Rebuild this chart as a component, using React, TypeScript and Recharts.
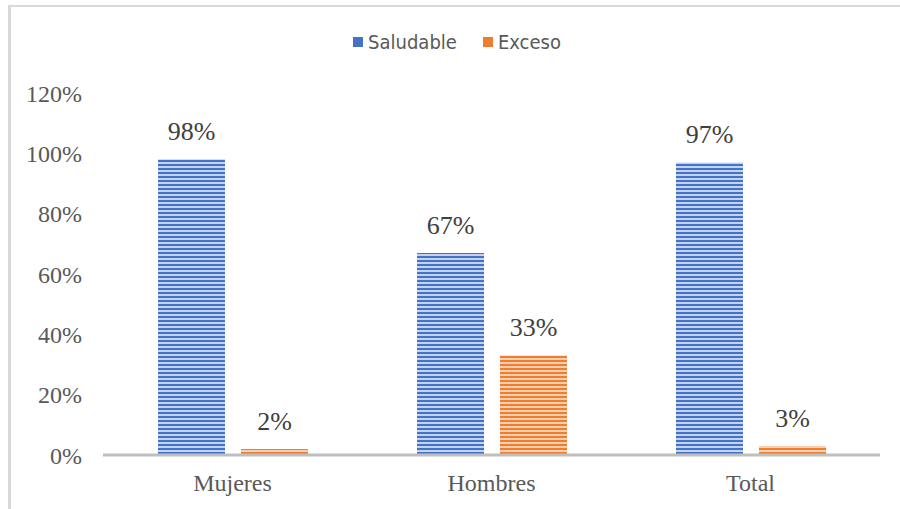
import React from 'react';
import { BarChart, Bar, XAxis, YAxis, Legend, LabelList } from 'recharts';

const categories = ['Mujeres', 'Hombres', 'Total'];
const saludable = [0.98, 0.67, 0.97];
const exceso = [0.02, 0.33, 0.03];
const yTicks = [0, 0.2, 0.4, 0.6, 0.8, 1.0, 1.2];
const legendItems = [
  { name: 'Saludable', color: '#4472c4' },
  { name: 'Exceso', color: '#ed7d31' },
];

const data = categories.map((c, i) => ({ name: c, Saludable: saludable[i], Exceso: exceso[i] }));

const pct = (v: number) => `${Math.round(v * 100)}%`;

const renderLegend = () => (
  <div style={{ display: 'flex', justifyContent: 'center', gap: 26, paddingLeft: 14, fontFamily: '"Liberation Sans Narrow", "DejaVu Sans Condensed", "Liberation Sans", sans-serif', fontSize: 20, color: '#595959' }}>
    {legendItems.map((p) => (
      <div key={p.name} style={{ display: 'flex', alignItems: 'center' }}>
        <div style={{ width: 10, height: 10, background: p.color, marginRight: 5 }} />
        <span>{p.name}</span>
      </div>
    ))}
  </div>
);

const serif = '"Liberation Serif", "Times New Roman", serif';

export default function App() {
  return (
    <div style={{ position: 'absolute', left: 0, top: 0, width: 900, height: 509, background: '#fff', overflow: 'hidden' }}>
      <div style={{ position: 'absolute', left: 8, top: 5, width: 900, height: 520, borderTop: '2px solid #d9d9d9', borderLeft: '3px solid #d9d9d9' }} />
      <BarChart
        width={900}
        height={509}
        data={data}
        margin={{ top: 93, right: 20, left: 0, bottom: 0 }}
        barGap={16}
        barSize={67}
        style={{ position: 'absolute', left: 0, top: 0 }}
      >
        <defs>
          <pattern id="pBlue" width="8" height="4" patternUnits="userSpaceOnUse">
            <rect x="0" y="0" width="8" height="4" fill="#c3d3ef" />
            <rect x="0" y="0" width="8" height="2" fill="#4472c4" />
          </pattern>
          <pattern id="pOrange" width="8" height="4" patternUnits="userSpaceOnUse">
            <rect x="0" y="0" width="8" height="4" fill="#f9cfb0" />
            <rect x="0" y="0" width="8" height="2" fill="#ed7d31" />
          </pattern>
        </defs>
        <Legend
          verticalAlign="middle"
          align="center"
          layout="horizontal"
          content={renderLegend}
          wrapperStyle={{ top: 30, left: 0, width: 900 }}
        />
        <XAxis
          dataKey="name"
          height={54}
          axisLine={{ stroke: '#bfbfbf', strokeWidth: 3 }}
          tickLine={false}
          tickSize={0}
          tickMargin={19}
          tick={{ fill: '#595959', fontSize: 24, fontFamily: serif }}
        />
        <YAxis
          width={103}
          domain={[0, 1.2]}
          ticks={yTicks}
          tickFormatter={pct}
          axisLine={false}
          tickLine={false}
          tickSize={0}
          tickMargin={21}
          tick={{ fill: '#595959', fontSize: 24, fontFamily: serif }}
        />
        <Bar dataKey="Saludable" fill="url(#pBlue)" isAnimationActive={false}>
          <LabelList dataKey="Saludable" position="top" offset={19} formatter={pct} fill="#404040" fontSize={26} fontFamily={serif} />
        </Bar>
        <Bar dataKey="Exceso" fill="url(#pOrange)" isAnimationActive={false}>
          <LabelList dataKey="Exceso" position="top" offset={19} formatter={pct} fill="#404040" fontSize={26} fontFamily={serif} />
        </Bar>
      </BarChart>
    </div>
  );
}
